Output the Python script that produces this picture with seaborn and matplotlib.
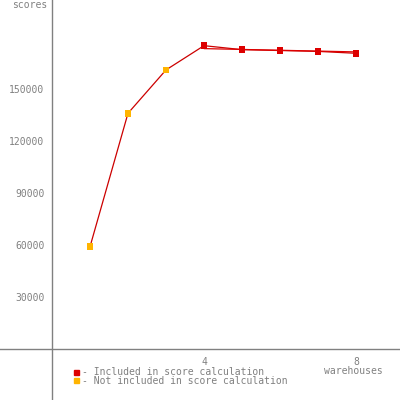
import matplotlib
matplotlib.use('Agg')
import matplotlib.pyplot as plt
import seaborn as sns
import pandas as pd

warehouses = [1, 2, 3, 4, 5, 6, 7, 8]
scores = [59000, 136000, 161000, 175000, 172700, 172200, 171700, 170600]
included = [False, False, False, True, True, True, True, True]
# straight reference line across the included range
ref_x = [4, 8]
ref_y = [173300, 171400]
yticks = [30000, 60000, 90000, 120000, 150000]
xticks = [4, 8]

RED = '#dd0000'
ORANGE = '#ffb400'
GREY = '#808080'


def main():
    sns.set_style('white')
    plt.rcParams['font.family'] = ['DejaVu Sans Mono']

    df = pd.DataFrame({'warehouses': warehouses, 'score': scores,
                       'kind': ['inc' if i else 'not' for i in included]})

    fig = plt.figure(figsize=(4, 4), dpi=100)
    ax = fig.add_axes([0, 0, 1, 1])

    sns.lineplot(data=df, x='warehouses', y='score', color='#cc0000',
                 linewidth=0.9, ax=ax)
    ax.plot(ref_x, ref_y, color='#dd0000', linewidth=0.9)
    sns.scatterplot(data=df, x='warehouses', y='score', hue='kind',
                    palette={'inc': RED, 'not': ORANGE}, marker='s', s=22,
                    linewidth=0, legend=False, ax=ax, zorder=3)

    # pixel mapping: x=0 at px 52, 38 px per warehouse; y=0 at px 349
    ax.set_xlim(-52 / 38, 348 / 38)
    ax.set_ylim(-51 * 30000 / 52, 349 * 30000 / 52)

    for s in ['top', 'right']:
        ax.spines[s].set_visible(False)
    ax.spines['left'].set_position(('data', 0))
    ax.spines['bottom'].set_position(('data', 0))
    for s in ['left', 'bottom']:
        ax.spines[s].set_color(GREY)
        ax.spines[s].set_linewidth(1)

    ax.set_xticks(xticks)
    ax.set_yticks(yticks)
    ax.set_xticklabels([str(t) for t in xticks])
    ax.set_yticklabels([str(t) for t in yticks])
    ax.tick_params(direction='inout', length=9, width=1, color=GREY,
                   labelcolor=GREY, labelsize=7, pad=1)
    ax.set_xlabel('')
    ax.set_ylabel('')

    fig.text(47 / 400, 1 - 5 / 400, 'scores', ha='right', va='center',
             color=GREY, fontsize=7)
    fig.text(353 / 400, 1 - 371 / 400, 'warehouses', ha='center', va='center',
             color=GREY, fontsize=7)

    # legend drawn by hand like the original
    fig.patches.append(plt.Rectangle((74 / 400, 1 - 375 / 400), 5 / 400, 5 / 400,
                                     transform=fig.transFigure, color=RED))
    fig.patches.append(plt.Rectangle((74 / 400, 1 - 383 / 400), 5 / 400, 5 / 400,
                                     transform=fig.transFigure, color=ORANGE))
    fig.text(82 / 400, 1 - 372 / 400, '- Included in score calculation',
             ha='left', va='center', color=GREY, fontsize=7)
    fig.text(82 / 400, 1 - 381 / 400, '- Not included in score calculation',
             ha='left', va='center', color=GREY, fontsize=7)

    fig.savefig('out.png', dpi=100, facecolor='white')
    plt.close(fig)


if __name__ == '__main__':
    main()
